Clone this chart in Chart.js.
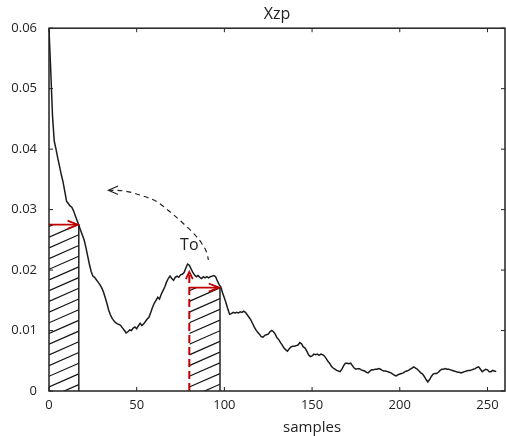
<!DOCTYPE html>
<html>
<head>
<meta charset="utf-8">
<script src="https://cdn.jsdelivr.net/npm/chart.js@4.4.1/dist/chart.umd.min.js"></script>
<style>
html, body { margin: 0; padding: 0; background: #fff; }
#chart { display: block; }
</style>
</head>
<body>
<canvas id="chart" width="506" height="436"></canvas>
<script>
// Xzp per sample index
const xzpValues = [
	0.0598, 0.0530, 0.0455, 0.0413, 0.0400, 0.0385, 0.0372, 0.0358, 0.0346, 0.0330,
	0.0314, 0.0310, 0.0306, 0.0304, 0.0298, 0.0290, 0.0282, 0.0274, 0.0266, 0.0258,
	0.0250, 0.0238, 0.0224, 0.0210, 0.0198, 0.0190, 0.0188, 0.0184, 0.0180, 0.0176,
	0.0171, 0.0164, 0.0155, 0.0145, 0.0134, 0.0126, 0.0120, 0.0116, 0.0113, 0.0111,
	0.0110, 0.0108, 0.0104, 0.0100, 0.0096, 0.0098, 0.0101, 0.0100, 0.0104, 0.0106,
	0.0103, 0.0108, 0.0112, 0.0108, 0.0111, 0.0115, 0.0119, 0.0122, 0.0130, 0.0138,
	0.0145, 0.0150, 0.0155, 0.0152, 0.0160, 0.0166, 0.0172, 0.0180, 0.0186, 0.0190,
	0.0186, 0.0183, 0.0188, 0.0190, 0.0188, 0.0192, 0.0193, 0.0196, 0.0203, 0.0210,
	0.0208, 0.0202, 0.0196, 0.0192, 0.0189, 0.0191, 0.0188, 0.0186, 0.0189, 0.0187,
	0.0189, 0.0187, 0.0189, 0.0190, 0.0191, 0.0189, 0.0182, 0.0176, 0.0172, 0.0162,
	0.0154, 0.0145, 0.0135, 0.0127, 0.0128, 0.0130, 0.0129, 0.0130, 0.0129, 0.0131,
	0.0130, 0.0132, 0.0130, 0.0126, 0.0122, 0.0118, 0.0112, 0.0106, 0.0101, 0.0097,
	0.0094, 0.0090, 0.0089, 0.0092, 0.0093, 0.0094, 0.0098, 0.0100, 0.0098, 0.0094,
	0.0088, 0.0085, 0.0080, 0.0076, 0.0071, 0.0068, 0.0066, 0.0070, 0.0073, 0.0074,
	0.0074, 0.0075, 0.0076, 0.0080, 0.0078, 0.0073, 0.0071, 0.0066, 0.0060, 0.0057,
	0.0058, 0.0061, 0.0060, 0.0061, 0.0059, 0.0061, 0.0060, 0.0058, 0.0054, 0.0049,
	0.0046, 0.0041, 0.0038, 0.0036, 0.0034, 0.0033, 0.0032, 0.0036, 0.0042, 0.0046,
	0.0046, 0.0045, 0.0046, 0.0042, 0.0038, 0.0036, 0.0037, 0.0037, 0.0035, 0.0034,
	0.0033, 0.0031, 0.0030, 0.0033, 0.0035, 0.0035, 0.0036, 0.0036, 0.0037, 0.0036,
	0.0034, 0.0033, 0.0033, 0.0032, 0.0031, 0.0030, 0.0028, 0.0026, 0.0025, 0.0027,
	0.0028, 0.0029, 0.0030, 0.0032, 0.0033, 0.0034, 0.0036, 0.0038, 0.0040, 0.0038,
	0.0036, 0.0033, 0.0030, 0.0028, 0.0024, 0.0019, 0.0015, 0.0019, 0.0024, 0.0028,
	0.0029, 0.0029, 0.0031, 0.0034, 0.0036, 0.0036, 0.0037, 0.0036, 0.0036, 0.0035,
	0.0034, 0.0033, 0.0032, 0.0031, 0.0031, 0.0030, 0.0031, 0.0032, 0.0033, 0.0034,
	0.0034, 0.0035, 0.0036, 0.0037, 0.0039, 0.0040, 0.0036, 0.0032, 0.0034, 0.0036,
	0.0035, 0.0032, 0.0032, 0.0034, 0.0033, 0.0032
];

const xTicks = [0, 50, 100, 150, 200, 250];
const yTicks = [0, 0.01, 0.02, 0.03, 0.04, 0.05, 0.06];

// hatched windows (sample range and level)
const hatchStart = [0, 80];
const hatchEnd = [17, 97.5];
const hatchTop = [0.0275, 0.0171];

// red marker at To
const toSample = 80;
const toPeak = 0.0197;

// dashed arrow from To back to the start
const arcX = [33.9, 42.4, 51.9, 61.5, 69.1, 76.6, 82.3, 87.1, 90.0, 90.9];
const arcY = [0.0332, 0.0331, 0.0324, 0.0313, 0.0296, 0.0277, 0.0261, 0.0244, 0.0228, 0.0217];

const FONT = '"Open Sans", "Liberation Sans", sans-serif';
const INK = '#222';
const RED = '#c00000';

function seg(ctx, x1, y1, x2, y2) {
	ctx.beginPath();
	ctx.moveTo(x1, y1);
	ctx.lineTo(x2, y2);
	ctx.stroke();
}

function arrowHead(ctx, tx, ty, angle, len, spread) {
	ctx.beginPath();
	ctx.moveTo(tx - len * Math.cos(angle - spread), ty - len * Math.sin(angle - spread));
	ctx.lineTo(tx, ty);
	ctx.lineTo(tx - len * Math.cos(angle + spread), ty - len * Math.sin(angle + spread));
	ctx.stroke();
}

const overlay = {
	id: 'overlay',
	beforeDatasetsDraw(chart) {
		const { ctx, scales: { x, y } } = chart;
		ctx.save();
		for (let i = 0; i < hatchStart.length; i++) {
			const l = x.getPixelForValue(hatchStart[i]);
			const r = x.getPixelForValue(hatchEnd[i]);
			const t = y.getPixelForValue(hatchTop[i]);
			const b = y.getPixelForValue(0);
			ctx.save();
			ctx.beginPath();
			ctx.rect(l, t, r - l, b - t);
			ctx.clip();
			ctx.strokeStyle = '#111';
			ctx.lineWidth = 1.2;
			const rise = (r - l) * 0.44;
			for (let y0 = b - 4 + 3 * 10.7; y0 > t - 12; y0 -= 10.7) {
				seg(ctx, l, y0, r, y0 - rise);
			}
			ctx.restore();
		}
		ctx.restore();
	},
	afterDatasetsDraw(chart) {
		const { ctx, scales: { x, y } } = chart;
		ctx.save();
		ctx.lineWidth = 1.8;
		ctx.strokeStyle = RED;
		// horizontal red arrows
		for (let i = 0; i < hatchStart.length; i++) {
			arrowHead(ctx, x.getPixelForValue(hatchEnd[i]) - 1, y.getPixelForValue(hatchTop[i]), 0, 11, 0.38);
		}
		// vertical red arrow head
		arrowHead(ctx, x.getPixelForValue(toSample), y.getPixelForValue(toPeak), -Math.PI / 2, 8, 0.45);
		// black open head on dashed arc
		ctx.strokeStyle = INK;
		ctx.lineWidth = 1.2;
		arrowHead(ctx, x.getPixelForValue(arcX[0]), y.getPixelForValue(arcY[0]), Math.PI, 10.5, 0.42);
		// "To" label
		ctx.fillStyle = INK;
		ctx.font = '16px ' + FONT;
		ctx.textAlign = 'center';
		ctx.textBaseline = 'middle';
		ctx.fillText('To', x.getPixelForValue(80), y.getPixelForValue(0.024));
		ctx.restore();
	},
	afterDraw(chart) {
		const { ctx, chartArea: a, scales: { x, y } } = chart;
		ctx.save();
		ctx.strokeStyle = INK;
		ctx.lineWidth = 1;
		xTicks.forEach(v => {
			const p = x.getPixelForValue(v);
			seg(ctx, p, a.bottom, p, a.bottom - 4);
			seg(ctx, p, a.top, p, a.top + 4);
		});
		yTicks.forEach(v => {
			const p = y.getPixelForValue(v);
			seg(ctx, a.left, p, a.left + 4, p);
			seg(ctx, a.right, p, a.right - 4, p);
		});
		ctx.lineWidth = 1.5;
		ctx.strokeRect(a.left, a.top, a.right - a.left, a.bottom - a.top);
		// x axis name
		ctx.fillStyle = INK;
		ctx.font = '15px ' + FONT;
		ctx.textAlign = 'center';
		ctx.textBaseline = 'middle';
		ctx.fillText('samples', x.getPixelForValue(150), a.bottom + 37);
		ctx.restore();
	}
};

const lineBase = { pointRadius: 0, fill: false, tension: 0 };

new Chart(document.getElementById('chart'), {
	type: 'line',
	data: {
		datasets: [
			{
				...lineBase,
				label: 'Xzp',
				data: xzpValues.map((v, i) => ({ x: i, y: v })),
				borderColor: '#1c1c1c',
				borderWidth: 1.5
			},
			{
				...lineBase,
				label: 'arc',
				data: arcX.map((v, i) => ({ x: v, y: arcY[i] })),
				borderColor: INK,
				borderWidth: 1.2,
				borderDash: [5, 4],
				cubicInterpolationMode: 'monotone'
			},
			{
				...lineBase,
				label: 'To marker',
				data: [{ x: toSample, y: 0 }, { x: toSample, y: toPeak }],
				borderColor: RED,
				borderWidth: 2,
				borderDash: [8, 4]
			},
			...hatchStart.map((s, i) => ({
				...lineBase,
				label: 'level ' + i,
				data: [{ x: s, y: hatchTop[i] }, { x: hatchEnd[i] - 1, y: hatchTop[i] }],
				borderColor: RED,
				borderWidth: 1.8
			})),
			...hatchEnd.map((e, i) => ({
				...lineBase,
				label: 'edge ' + i,
				data: [{ x: e, y: 0 }, { x: e, y: hatchTop[i] }],
				borderColor: INK,
				borderWidth: 1.5
			}))
		]
	},
	options: {
		responsive: false,
		animation: false,
		devicePixelRatio: 1,
		layout: { padding: { left: 0, right: 1, top: 0, bottom: 0 } },
		plugins: {
			legend: { display: false },
			tooltip: { enabled: false },
			title: {
				display: true,
				text: 'Xzp',
				fullSize: false,
				color: INK,
				font: { family: FONT, size: 16, weight: 'normal' },
				padding: { top: 5, bottom: 4 }
			}
		},
		scales: {
			x: {
				type: 'linear',
				min: 0,
				max: 260,
				grid: { display: false, drawTicks: false },
				border: { display: false },
				ticks: {
					stepSize: 50,
					includeBounds: false,
					padding: 6,
					maxRotation: 0,
					color: INK,
					font: { family: FONT, size: 13 }
				},
				afterFit: s => { s.height = 45; }
			},
			y: {
				min: 0,
				max: 0.06,
				grid: { display: false, drawTicks: false },
				border: { display: false },
				ticks: {
					stepSize: 0.01,
					padding: 12,
					color: INK,
					font: { family: FONT, size: 13 },
					callback: v => String(+v.toFixed(2))
				},
				afterFit: s => { s.width = 49; }
			}
		}
	},
	plugins: [overlay]
});
</script>
</body>
</html>
